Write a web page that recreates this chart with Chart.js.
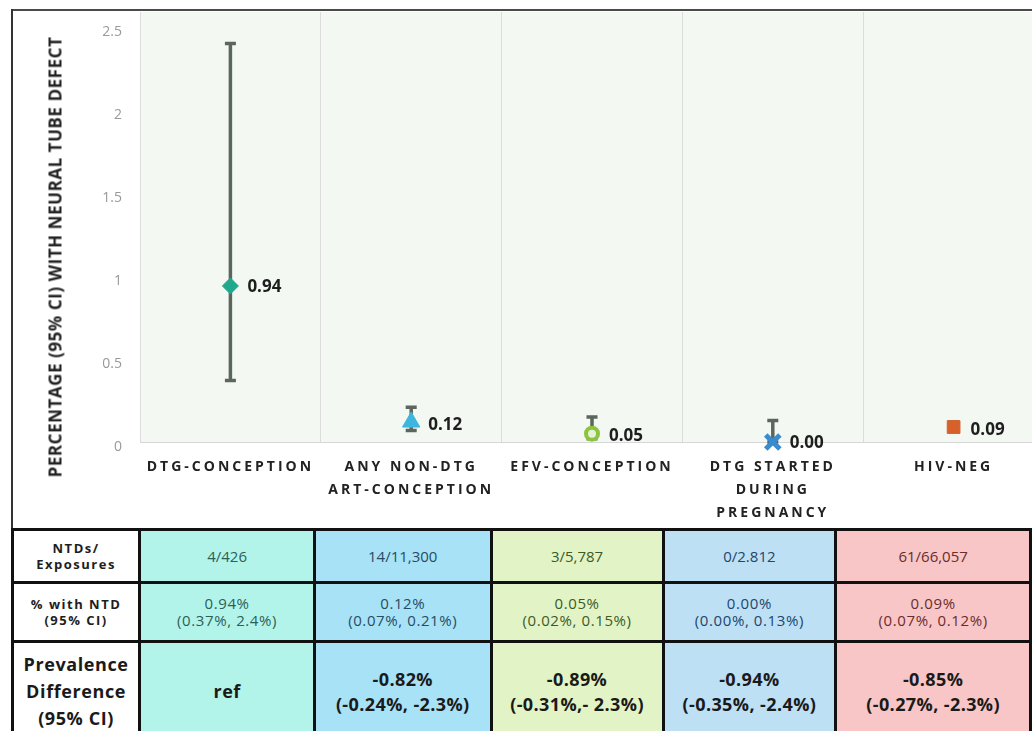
<!DOCTYPE html>
<html>
<head>
<meta charset="utf-8">
<script src="https://cdn.jsdelivr.net/npm/chart.js@4.4.1/dist/chart.umd.min.js"></script>
<style>
  html, body { margin:0; padding:0; background:#fff; overflow:hidden; width:1032px; height:731px; }
  #frameTop { position:absolute; left:12px; top:9px; width:1030px; height:0; border-top:2px solid #4a4a4a; }
  #frameLeft { position:absolute; left:11px; top:9px; width:0; height:522px; border-left:2px solid #333; }
  #wrap { position:absolute; left:13px; top:11px; width:1031px; height:517px; }
  #ytitle { position:absolute; left:55px; top:257px; transform:translate(-50%,-50%) rotate(-90deg);
            white-space:nowrap; font:bold 17px 'Open Sans', sans-serif; color:#222; letter-spacing:0.55px; }
  table { position:absolute; left:11px; top:528px; border-collapse:collapse; table-layout:fixed;
          font-family:'Open Sans', sans-serif; }
  td { border:3px solid #111; text-align:center; vertical-align:middle; padding:0; }
  tr.r1 { height:53px; } tr.r2 { height:59px; } tr.r3 { height:100px; }
  td.h { background:#fff; color:#1e1e1e; font-weight:bold; }
  tr.r1 td.h, tr.r2 td.h { font-size:13px; line-height:16px; letter-spacing:1.5px; }
  tr.r3 td.h { font-size:18px; line-height:27px; letter-spacing:0.6px; }
  tr.r1 td { font-size:15px; }
  tr.r2 td { font-size:15px; line-height:17px; letter-spacing:0.6px; }
  tr.r3 td { font-size:18px; font-weight:bold; line-height:25px; letter-spacing:0.4px; color:#1a1a1a; }
  .c1 { background:#b3f4ea; color:#2d5e57; }
  .c2 { background:#a8e2f6; color:#274c63; }
  .c3 { background:#e2f4c5; color:#3c5a26; }
  .c4 { background:#bde0f5; color:#23456b; }
  .c5 { background:#f8c6c6; color:#6b2c2c; }
  tr.r3 td.c1, tr.r3 td.c2, tr.r3 td.c3, tr.r3 td.c4, tr.r3 td.c5 { color:#1a1a1a; }
</style>
</head>
<body>
<div id="frameTop"></div>
<div id="frameLeft"></div>
<div id="wrap"><canvas id="c"></canvas></div>
<div id="ytitle">PERCENTAGE (95% CI) WITH NEURAL TUBE DEFECT</div>
<table id="tbl">
  <colgroup><col style="width:128px"><col style="width:180px"><col style="width:181px"><col style="width:176px"><col style="width:177px"><col style="width:200px"></colgroup>
  <tbody></tbody>
</table>
<script>
// ---- chart data ----
const categories = [
  ['DTG-CONCEPTION'],
  ['ANY NON-DTG', 'ART-CONCEPTION'],
  ['EFV-CONCEPTION'],
  ['DTG STARTED', 'DURING', 'PREGNANCY'],
  ['HIV-NEG']
];
const prevalence = [0.94, 0.12, 0.05, 0.00, 0.09];
const ciLower    = [0.37, 0.07, 0.02, 0.00, 0.07];
const ciUpper    = [2.4, 0.21, 0.15, 0.13, 0.12];
const yTickValues = [0, 0.5, 1, 1.5, 2, 2.5];

// ---- table data ----
const rowHeaders = [['NTDs/', 'Exposures'], ['% with NTD', '(95% CI)'], ['Prevalence', 'Difference', '(95% CI)']];
const ntdsExposures = ['4/426', '14/11,300', '3/5,787', '0/2.812', '61/66,057'];
const pctWithNtd = [['0.94%', '(0.37%, 2.4%)'], ['0.12%', '(0.07%, 0.21%)'], ['0.05%', '(0.02%, 0.15%)'], ['0.00%', '(0.00%, 0.13%)'], ['0.09%', '(0.07%, 0.12%)']];
const prevDiff = [['ref'], ['-0.82%', '(-0.24%, -2.3%)'], ['-0.89%', '(-0.31%,- 2.3%)'], ['-0.94%', '(-0.35%, -2.4%)'], ['-0.85%', '(-0.27%, -2.3%)']];

// ---- styles ----
const markerStyles = ['rectRot', 'triangle', 'circle', 'crossRot', 'rect'];
const markerFill   = ['#1fa98c', '#3cb6df', '#e6f2d6', '#3a8cd0', '#d8612a'];
const markerBorder = ['#1fa98c', '#3cb6df', '#8cc43f', '#3a8cd0', '#d8612a'];
const markerRadius = [8, 10, 6, 10, 9];
const markerBorderW= [1, 1, 4, 5, 1];
const labelDy      = [1, 3, 2, 1, 3];

// build table
const tbody = document.querySelector('#tbl tbody');
const rows = [ntdsExposures.map(v => [v]), pctWithNtd, prevDiff];
['r1','r2','r3'].forEach((cls, ri) => {
  const tr = document.createElement('tr'); tr.className = cls;
  const th = document.createElement('td'); th.className = 'h';
  th.innerHTML = rowHeaders[ri].join('<br>'); tr.appendChild(th);
  rows[ri].forEach((lines, ci) => {
    const td = document.createElement('td'); td.className = 'c' + (ci + 1);
    td.innerHTML = lines.join('<br>'); tr.appendChild(td);
  });
  tbody.appendChild(tr);
});

const plotBg = {
  id: 'plotBg',
  beforeDraw(chart) {
    const { ctx, chartArea: a } = chart;
    ctx.save(); ctx.fillStyle = '#f3f8f2';
    ctx.fillRect(a.left, a.top, a.right - a.left, a.bottom - a.top);
    ctx.restore();
    ctx.letterSpacing = '3px';
  },
  beforeDatasetsDraw(chart) {
    const { ctx, scales: { x, y } } = chart;
    ctx.letterSpacing = '0px';
    ctx.save();
    ctx.strokeStyle = '#5b665c'; ctx.lineWidth = 3.5; ctx.lineCap = 'butt';
    prevalence.forEach((v, i) => {
      const px = x.getPixelForValue(i);
      const yl = y.getPixelForValue(ciLower[i]), yu = y.getPixelForValue(ciUpper[i]);
      ctx.beginPath(); ctx.moveTo(px, yl); ctx.lineTo(px, yu); ctx.stroke();
      ctx.beginPath(); ctx.moveTo(px - 5.5, yu); ctx.lineTo(px + 5.5, yu);
      ctx.moveTo(px - 5.5, yl); ctx.lineTo(px + 5.5, yl); ctx.stroke();
    });
    ctx.restore();
  },
  afterDatasetsDraw(chart) {
    const { ctx } = chart;
    const meta = chart.getDatasetMeta(0);
    ctx.save();
    ctx.font = "bold 17px 'Open Sans', sans-serif";
    ctx.fillStyle = '#1e1e1e'; ctx.textAlign = 'left'; ctx.textBaseline = 'middle';
    meta.data.forEach((pt, i) => {
      ctx.fillText(prevalence[i].toFixed(2), pt.x + 17, pt.y + labelDy[i]);
    });
    ctx.restore();
  }
};

new Chart(document.getElementById('c'), {
  type: 'line',
  data: {
    labels: categories,
    datasets: [{
      data: prevalence,
      showLine: false,
      clip: false,
      pointStyle: markerStyles,
      pointBackgroundColor: markerFill,
      pointBorderColor: markerBorder,
      pointRadius: markerRadius,
      pointBorderWidth: markerBorderW
    }]
  },
  options: {
    responsive: true, maintainAspectRatio: false, animation: false,
    layout: { autoPadding: false, padding: { top: 1, right: 0, bottom: 0, left: 0 } },
    plugins: { legend: { display: false }, tooltip: { enabled: false } },
    scales: {
      x: {
        offset: true,
        grid: { offset: true, color: '#dcdcdc', drawTicks: false },
        border: { color: '#d6d6d6' },
        ticks: { color: '#222', padding: 13.5, maxRotation: 0, autoSkip: false,
                 font: { family: 'Open Sans', weight: 'bold', size: 14, lineHeight: 1.64 } },
        afterFit(s) { s.height = 86; s.paddingLeft = 0; s.paddingRight = 0; s.paddingTop = 0; s.paddingBottom = 0; }
      },
      y: {
        min: 0, max: 2.59,
        grid: { display: false, drawTicks: false },
        border: { display: false },
        afterBuildTicks(s) { s.ticks = yTickValues.map(v => ({ value: v })); },
        ticks: { z: 1, color: '#999', padding: 18, labelOffset: 5,
                 callback: v => String(v),
                 font: { family: 'Open Sans', size: 14 } },
        afterFit(s) { s.width = 127; s.paddingTop = 0; s.paddingBottom = 0; s.paddingLeft = 0; s.paddingRight = 0; }
      }
    }
  },
  plugins: [plotBg]
});
</script>
</body>
</html>
